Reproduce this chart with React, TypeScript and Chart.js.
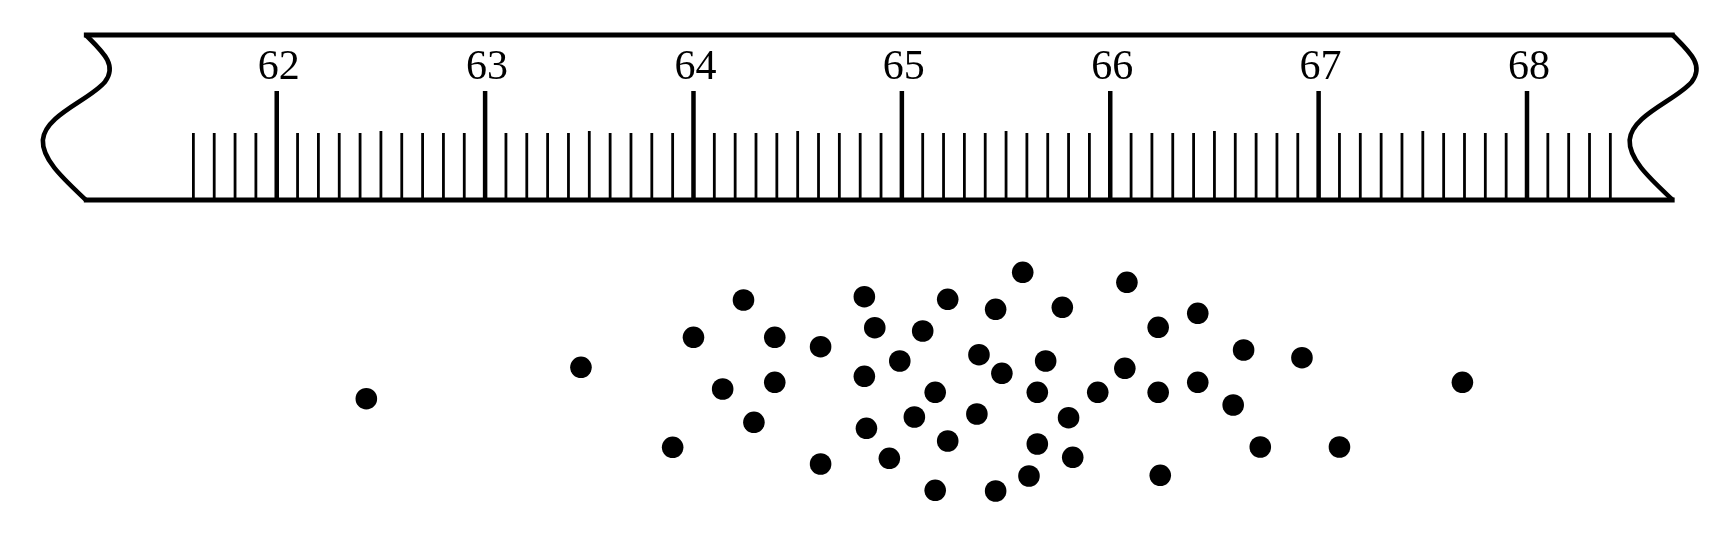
import React, { useEffect, useRef } from "react";
import { Chart, registerables } from "chart.js";

Chart.register(...registerables);

// Heights (inches) of each dot
const heights: number[] = [
  62.43, 63.46, 63.9, 64.0, 64.14, 64.24, 64.29, 64.39, 64.39, 64.61,
  64.61, 64.82, 64.82, 64.83, 64.87, 64.94, 64.99, 65.06, 65.1, 65.16,
  65.16, 65.22, 65.22, 65.36, 65.37, 65.45, 65.45, 65.48, 65.58, 65.61,
  65.65, 65.65, 65.69, 65.77, 65.8, 65.82, 65.94, 66.07, 66.08, 66.23,
  66.23, 66.24, 66.42, 66.42, 66.59, 66.64, 66.72, 66.92, 67.1, 67.69,
];

// Vertical jitter of each dot (arbitrary units)
const jitter: number[] = [
  15.13, 18.27, 10.27, 21.27, 16.1, 25.0, 12.77, 21.27, 16.77, 20.33,
  8.6, 25.33, 17.37, 12.17, 22.23, 9.17, 18.9, 13.3, 21.9, 15.77,
  5.97, 25.07, 10.9, 13.6, 19.53, 24.07, 5.9, 17.67, 27.77, 7.4,
  15.77, 10.6, 18.9, 24.27, 13.23, 9.27, 15.77, 18.17, 26.77, 22.27,
  15.77, 7.47, 23.67, 16.77, 14.5, 20.0, 10.3, 19.23, 10.3, 16.77,
];

// Ruler labels and marks
const majorTicks: number[] = [62, 63, 64, 65, 66, 67, 68];
const tickLabels: string[] = ["62", "63", "64", "65", "66", "67", "68"];
const minorStart = 61.6;
const minorEnd = 68.4;
const rulerStart = 61.084;
const rulerEnd = 68.699;

const X_MIN = 60.672;
const X_MAX = 68.955;

const rulerPlugin = {
  id: "ruler",
  beforeDatasetsDraw(chart: any) {
    const ctx = chart.ctx as CanvasRenderingContext2D;
    const xs = chart.scales.x;
    const top = 35;
    const bottom = 200;
    const xl = xs.getPixelForValue(rulerStart);
    const xr = xs.getPixelForValue(rulerEnd);

    ctx.save();
    ctx.strokeStyle = "#000";
    ctx.lineJoin = "miter";
    ctx.lineCap = "butt";

    // wavy end shape (relative to corner x)
    const wave = (x0: number) => {
      ctx.moveTo(x0, top);
      ctx.bezierCurveTo(x0 + 17, top + 17, x0 + 32, top + 30, x0 + 19, top + 47);
      ctx.bezierCurveTo(x0 + 4, top + 65, x0 - 41, top + 80, x0 - 43, top + 105);
      ctx.bezierCurveTo(x0 - 44, top + 125, x0 - 21, top + 145, x0, bottom);
    };

    ctx.lineWidth = 5;
    // top line
    ctx.beginPath();
    ctx.moveTo(xl - 2, top);
    ctx.lineTo(xr + 2, top);
    ctx.stroke();
    // bottom line
    ctx.beginPath();
    ctx.moveTo(xl - 2, bottom);
    ctx.lineTo(xr + 2, bottom);
    ctx.stroke();
    // ends
    ctx.lineWidth = 4.6;
    ctx.beginPath();
    wave(xl);
    ctx.stroke();
    ctx.beginPath();
    wave(xr);
    ctx.stroke();

    // minor ticks
    ctx.lineWidth = 2.8;
    const n = Math.round((minorEnd - minorStart) * 10);
    for (let i = 0; i <= n; i++) {
      const v = minorStart + i / 10;
      const tenth = Math.round(v * 10) % 10;
      if (tenth === 0) continue;
      const px = xs.getPixelForValue(v);
      const h = tenth === 5 ? 69 : 67;
      ctx.beginPath();
      ctx.moveTo(px, bottom);
      ctx.lineTo(px, bottom - h);
      ctx.stroke();
    }

    // major ticks and labels
    ctx.lineWidth = 4.5;
    ctx.fillStyle = "#000";
    ctx.font = '42px "Liberation Serif", "Times New Roman", serif';
    ctx.textAlign = "center";
    ctx.textBaseline = "alphabetic";
    majorTicks.forEach((v, i) => {
      const px = xs.getPixelForValue(v);
      ctx.beginPath();
      ctx.moveTo(px, bottom - 2);
      ctx.lineTo(px, 91);
      ctx.stroke();
      ctx.fillText(tickLabels[i], px + 2, 79);
    });
    ctx.restore();
  },
};

export default function App() {
  const canvasRef = useRef<HTMLCanvasElement | null>(null);

  useEffect(() => {
    if (!canvasRef.current) return;
    const chart = new Chart(canvasRef.current, {
      type: "scatter",
      data: {
        datasets: [
          {
            label: "Heights",
            data: heights.map((h, i) => ({ x: h, y: jitter[i] })),
            backgroundColor: "#000",
            borderWidth: 0,
            pointRadius: 10.8,
            pointHoverRadius: 10.8,
          },
        ],
      },
      options: {
        animation: false,
        responsive: false,
        maintainAspectRatio: false,
        layout: { padding: 0, autoPadding: false },
        plugins: {
          legend: { display: false },
          tooltip: { enabled: false },
          title: { display: false },
        },
        scales: {
          x: { type: "linear", min: X_MIN, max: X_MAX, display: false },
          y: { type: "linear", min: 0, max: 55, display: false },
        },
      },
      plugins: [rulerPlugin],
    });
    return () => chart.destroy();
  }, []);

  return (
    <div
      style={{
        position: "fixed",
        left: 0,
        top: 0,
        width: 1726,
        height: 550,
        background: "#fff",
      }}
    >
      <canvas ref={canvasRef} width={1726} height={550} />
    </div>
  );
}
